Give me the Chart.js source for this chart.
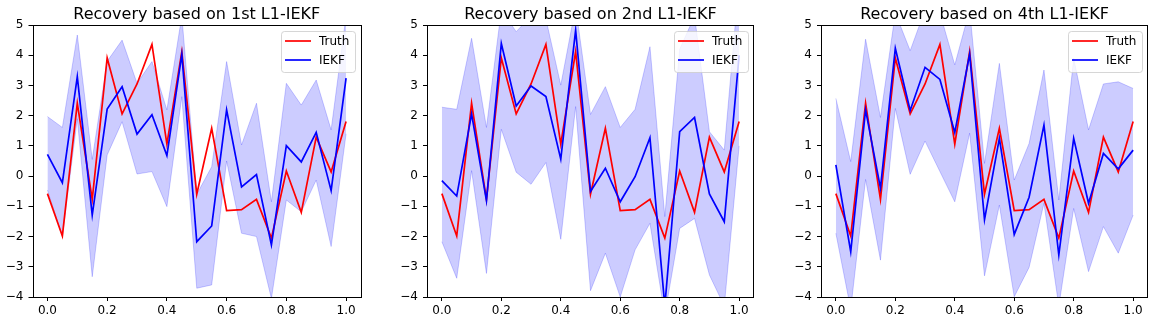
<!DOCTYPE html>
<html lang="en">
<head>
<meta charset="UTF-8">
<title>Recovery based on L1-IEKF</title>
<script src="https://cdn.jsdelivr.net/npm/chart.js"></script>
<style>
  body { margin: 0; background: #fff; }
  #wrap { position: relative; width: 1155px; height: 324px; }
  canvas { position: absolute; top: 0; }
</style>
</head>
<body>
<div id="wrap">
  <canvas id="c1" width="385" height="324" style="left:0px"></canvas>
  <canvas id="c2" width="385" height="324" style="left:385px"></canvas>
  <canvas id="c3" width="385" height="324" style="left:770px"></canvas>
</div>
<script>
// x positions (21 samples) and tick labels
const xs = [0, 0.05, 0.1, 0.15, 0.2, 0.25, 0.3, 0.35, 0.4, 0.45, 0.5, 0.55, 0.6, 0.65, 0.7, 0.75, 0.8, 0.85, 0.9, 0.95, 1.0];
const xTicks = [0, 0.2, 0.4, 0.6, 0.8, 1.0];
const yTicks = [-4, -3, -2, -1, 0, 1, 2, 3, 4, 5];

const titles = ['Recovery based on 1st L1-IEKF', 'Recovery based on 2nd L1-IEKF', 'Recovery based on 4th L1-IEKF'];

const truth = [-0.58, -1.98, 2.41, -0.77, 3.91, 2.06, 3.05, 4.36, 1.06, 4.12, -0.60, 1.58, -1.14, -1.11, -0.77, -2.05, 0.17, -1.20, 1.29, 0.14, 1.81];

// 1st L1-IEKF
const iekf1  = [0.72, -0.22, 3.29, -1.29, 2.22, 2.96, 1.39, 2.03, 0.68, 4.03, -2.17, -1.65, 2.19, -0.36, 0.05, -2.28, 1.01, 0.47, 1.45, -0.48, 3.24];
const upper1 = [1.97, 1.61, 4.67, 0.55, 3.80, 4.50, 3.07, 3.79, 2.19, 5.30, -0.60, 0.31, 3.79, 1.03, 2.41, -0.85, 3.07, 2.35, 3.18, 1.53, 5.30];
const lower1 = [-0.46, -2.00, 1.90, -3.33, 0.70, 1.80, 0.07, 0.15, -1.01, 2.63, -3.71, -3.60, 0.50, -1.89, -2.00, -4.05, -0.79, -1.18, -0.13, -2.33, 1.40];

// 2nd L1-IEKF
const iekf2  = [-0.15, -0.66, 2.06, -0.81, 4.39, 2.32, 2.98, 2.63, 0.56, 4.83, -0.51, 0.26, -0.85, -0.02, 1.27, -4.30, 1.47, 1.94, -0.59, -1.51, 4.00];
const upper2 = [2.28, 2.21, 4.56, 1.61, 5.50, 4.78, 5.30, 5.20, 3.01, 5.60, 2.04, 2.96, 1.61, 2.21, 4.28, -1.34, 4.20, 5.30, 1.47, 0.86, 6.50];
const lower2 = [-2.17, -3.38, 0.18, -3.22, 1.55, 0.13, -0.27, 0.45, -2.09, 2.30, -3.79, -2.55, -4.00, -2.44, -1.56, -4.60, -1.73, -1.40, -3.27, -4.30, 1.00];

// 4th L1-IEKF
const iekf3  = [0.37, -2.50, 2.19, -0.40, 4.23, 2.17, 3.60, 3.20, 1.44, 4.04, -1.44, 1.25, -1.93, -0.70, 1.69, -2.61, 1.25, -0.90, 0.75, 0.24, 0.86];
const upper3 = [2.57, 0.48, 4.53, 1.94, 5.40, 4.15, 5.50, 5.40, 3.68, 5.50, 0.42, 3.73, -0.13, 1.08, 3.51, -0.79, 3.90, 1.53, 3.05, 3.12, 2.90];
const lower3 = [-1.89, -4.40, -0.11, -2.78, 2.24, 0.06, 1.16, 0.15, -0.85, 1.42, -3.30, -0.96, -3.99, -3.02, -0.90, -4.30, -1.07, -3.16, -1.67, -2.55, -1.29];

const estimates = [iekf1, iekf2, iekf3];
const uppers = [upper1, upper2, upper3];
const lowers = [lower1, lower2, lower3];

// layout of each panel inside its 385px canvas
const axisWidth = [32.5, 42, 51];
const padRight = [24, 16, 7];

const FONT = '"DejaVu Sans", sans-serif';
const LW = 1.7;
const pts = arr => arr.map((y, i) => ({ x: xs[i], y: y }));

// frame, title and the inside legend (matplotlib style)
const decor = {
    id: 'decor',
    afterDraw(chart, args, opts) {
        const ctx = chart.ctx;
        const a = chart.chartArea;
        ctx.save();
        ctx.strokeStyle = '#000';
        ctx.lineWidth = 1;
        ctx.strokeRect(Math.round(a.left) + 0.5, Math.round(a.top) + 0.5,
                       Math.round(a.right - a.left) - 1, Math.round(a.bottom - a.top));

        ctx.fillStyle = '#000';
        ctx.font = '16px ' + FONT;
        ctx.textAlign = 'center';
        ctx.textBaseline = 'alphabetic';
        ctx.fillText(opts.title, (a.left + a.right) / 2, 19);

        // legend box
        const w = 74, h = 41;
        const bx = a.right - 6 - w, by = a.top + 6;
        ctx.beginPath();
        ctx.roundRect(bx + 0.5, by + 0.5, w, h, 3);
        ctx.fillStyle = 'rgba(255,255,255,0.8)';
        ctx.fill();
        ctx.strokeStyle = 'rgba(204,204,204,0.8)';
        ctx.stroke();
        const items = [['Truth', '#ff0000'], ['IEKF', '#0000ff']];
        ctx.font = '12px ' + FONT;
        ctx.textAlign = 'left';
        ctx.textBaseline = 'middle';
        items.forEach((it, k) => {
            const y = by + 10 + k * 19;
            ctx.beginPath();
            ctx.moveTo(bx + 4, y);
            ctx.lineTo(bx + 30, y);
            ctx.strokeStyle = it[1];
            ctx.lineWidth = LW;
            ctx.stroke();
            ctx.fillStyle = '#000';
            ctx.fillText(it[0], bx + 38, y + 1);
        });
        ctx.restore();
    }
};

['c1', 'c2', 'c3'].forEach((id, i) => {
    new Chart(document.getElementById(id), {
        type: 'line',
        data: {
            datasets: [{
                label: 'IEKF',
                data: pts(estimates[i]),
                borderColor: '#0000ff',
                borderWidth: LW,
                pointRadius: 0,
                fill: false,
                clip: 0
            }, {
                label: 'Truth',
                data: pts(truth),
                borderColor: '#ff0000',
                borderWidth: LW,
                pointRadius: 0,
                fill: false,
                clip: 0
            }, {
                label: 'upper',
                data: pts(uppers[i]),
                borderColor: 'rgba(0,0,255,0.2)',
                borderWidth: 1,
                pointRadius: 0,
                fill: false,
                clip: 0
            }, {
                label: 'lower',
                data: pts(lowers[i]),
                borderColor: 'rgba(0,0,255,0.2)',
                backgroundColor: 'rgba(0,0,255,0.2)',
                borderWidth: 1,
                pointRadius: 0,
                fill: '-1',
                clip: 0
            }]
        },
        options: {
            responsive: false,
            animation: false,
            devicePixelRatio: 1,
            layout: { padding: { left: 0, right: padRight[i], top: 25, bottom: 0 } },
            plugins: {
                legend: { display: false },
                title: { display: false },
                tooltip: { enabled: false },
                decor: { title: titles[i] }
            },
            scales: {
                x: {
                    type: 'linear',
                    min: -0.05,
                    max: 1.05,
                    afterBuildTicks: s => { s.ticks = xTicks.map(v => ({ value: v })); },
                    afterFit: s => { s.height = 27; },
                    border: { display: false },
                    grid: { drawOnChartArea: false, drawTicks: true, tickLength: 4, tickColor: '#000', tickWidth: 1 },
                    ticks: {
                        autoSkip: false, maxRotation: 0, padding: 3, color: '#000',
                        font: { family: FONT, size: 12 },
                        callback: v => v.toFixed(1)
                    }
                },
                y: {
                    type: 'linear',
                    min: -4,
                    max: 5,
                    afterBuildTicks: s => { s.ticks = yTicks.map(v => ({ value: v })); },
                    afterFit: s => { s.width = axisWidth[i]; },
                    border: { display: false },
                    grid: { drawOnChartArea: false, drawTicks: true, tickLength: 4, tickColor: '#000', tickWidth: 1 },
                    ticks: {
                        autoSkip: false, padding: 5, color: '#000',
                        font: { family: FONT, size: 12 },
                        callback: v => String(v).replace('-', '\u2212')
                    }
                }
            }
        },
        plugins: [decor]
    });
});
</script>
</body>
</html>
